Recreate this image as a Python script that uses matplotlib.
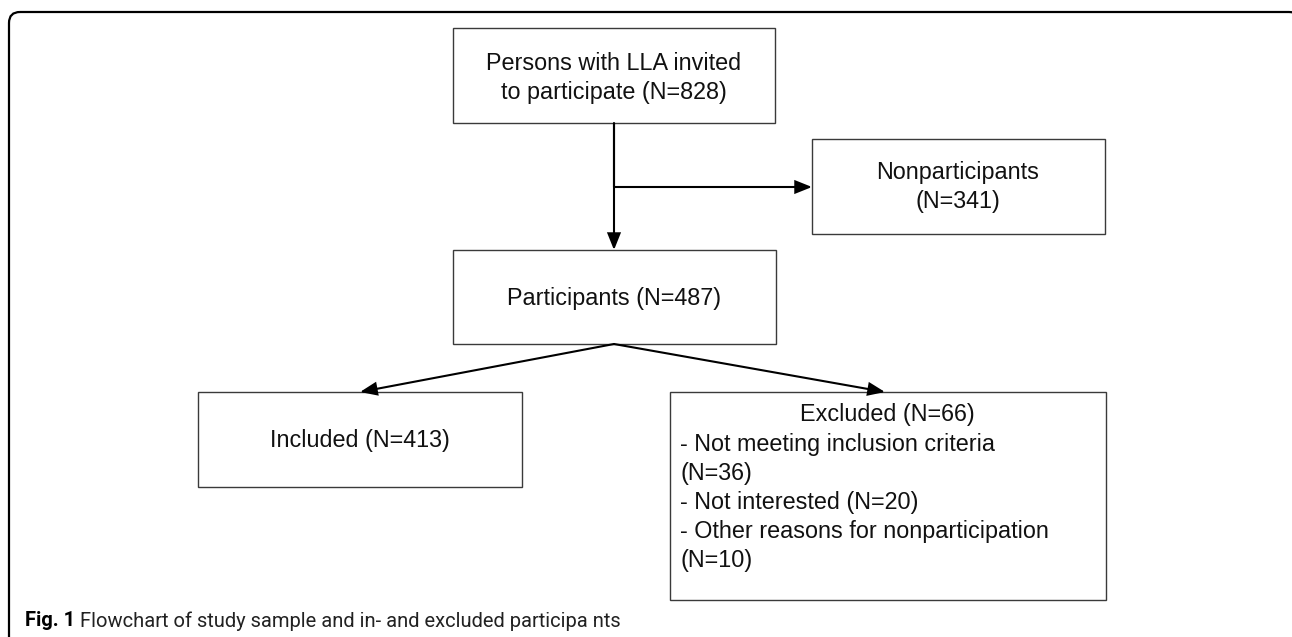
import matplotlib
matplotlib.use("Agg")
import matplotlib.pyplot as plt
from matplotlib.patches import Rectangle, FancyBboxPatch, FancyArrowPatch

# counts from the flowchart
n_invited = 828
n_nonpart = 341
n_part = 487
n_included = 413
n_excluded = 66
excl_reasons = ["Not meeting inclusion criteria", "Not interested", "Other reasons for nonparticipation"]
excl_counts = [36, 20, 10]
caption_bold = "Fig. 1"
caption_text = "Flowchart of study sample and in- and excluded participa nts"

W, H = 1292, 637
fig = plt.figure(figsize=(W / 100, H / 100), dpi=100)
ax = fig.add_axes([0, 0, 1, 1])
ax.set_xlim(0, W)
ax.set_ylim(H, 0)
ax.axis("off")

font = "Liberation Sans"
fs = 16.8
edge = "#3a3a3a"

# outer rounded frame (runs off the right and bottom edges)
ax.add_patch(FancyBboxPatch((9, 12), W - 1, H + 20, boxstyle="round,pad=0,rounding_size=11",
                            fill=False, ec="black", lw=1.6, clip_on=True))

# boxes: x0, y0, x1, y1 (pixels)
boxes = {
    "invited": (453, 28, 775, 123),
    "nonpart": (812, 139, 1105, 234),
    "part": (453, 250, 776, 344),
    "incl": (198, 392, 522, 487),
    "excl": (670, 392, 1106, 600),
}
for x0, y0, x1, y1 in boxes.values():
    ax.add_patch(Rectangle((x0, y0), x1 - x0, y1 - y0, fill=False, ec=edge, lw=1.0))


def txt(x, y, s, ha="center"):
    ax.text(x, y, s, ha=ha, va="center", fontsize=fs, family=font, color="#111111")


lh = 28.5
txt(614, 64, "Persons with LLA invited")
txt(614, 64 + lh, "to participate (N=%d)" % n_invited)
txt(958, 173, "Nonparticipants")
txt(958, 173 + lh, "(N=%d)" % n_nonpart)
txt(614, 298, "Participants (N=%d)" % n_part)
txt(360, 440, "Included (N=%d)" % n_included)
txt(887, 415, "Excluded (N=%d)" % n_excluded)

# exclusion reasons, wrapped like in the original
excl_lines = []
for r, c in zip(excl_reasons, excl_counts):
    line = "- %s (N=%d)" % (r, c)
    if len(line) > 30:
        excl_lines += ["- " + r, "(N=%d)" % c]
    else:
        excl_lines.append(line)
for i, line in enumerate(excl_lines):
    txt(680, 444 + i * 29.2, line, ha="left")


def arrow(p, q):
    ax.add_patch(FancyArrowPatch(p, q, arrowstyle="-|>,head_length=0.5,head_width=0.2",
                                 mutation_scale=20, shrinkA=0, shrinkB=0, lw=1.5,
                                 color="black", joinstyle="miter"))


ax.plot([614, 614], [123, 187], color="black", lw=1.5, solid_capstyle="butt")
arrow((614, 123), (614, 250))
arrow((614, 187), (812, 187))
arrow((614, 344), (360, 392))
arrow((614, 344), (885, 392))

# caption
cap_font = ["Roboto", "DejaVu Sans"]
t = ax.text(25, 621, caption_bold, ha="left", va="center", fontsize=14.5,
            family=cap_font, weight="bold")
fig.canvas.draw()
bb = t.get_window_extent()
ax.text(25 + bb.width + 5, 621, caption_text, ha="left", va="center", fontsize=14.5,
        family=cap_font, color="#222222")

fig.savefig("out.png", dpi=100)
